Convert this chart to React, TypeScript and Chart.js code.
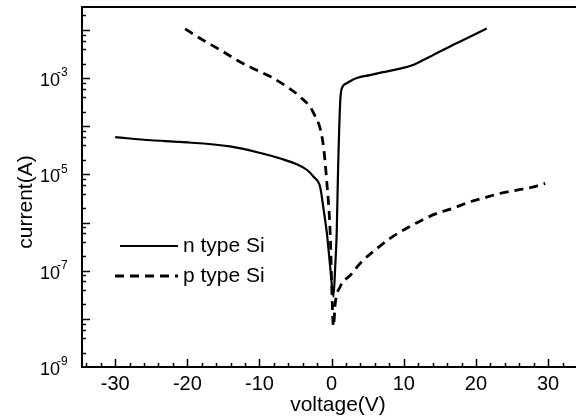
import React, { useEffect, useRef } from "react";
import { Chart, registerables } from "chart.js";

Chart.register(...registerables);

// ---- data ----
const nVoltage = [-30, -25, -21, -14.1, -10, -7, -5, -3.4, -2.5, -1.6, -1.1, -0.66, -0.2, 0.25, 0.5, 0.7, 0.9, 1.2, 1.5, 2.1, 2.8, 3.5, 5.3, 7.1, 9, 11.3, 12.3, 13.6, 15, 17.3, 19.6, 21.5];
const nCurrent = [5.9e-5, 5.1e-5, 4.7e-5, 3.8e-5, 2.8e-5, 2.1e-5, 1.66e-5, 1.23e-5, 8.9e-6, 5.5e-6, 1.8e-6, 6.0e-7, 1.2e-7, 2.9e-8, 1.26e-7, 6.0e-7, 1.4e-5, 3.5e-4, 6.5e-4, 7.8e-4, 9.0e-4, 1.0e-3, 1.15e-3, 1.32e-3, 1.51e-3, 1.86e-3, 2.19e-3, 2.75e-3, 3.55e-3, 5.25e-3, 7.76e-3, 1.07e-2];

const pVoltage = [-20.3, -18.2, -15.4, -13.1, -10.9, -8.5, -6.2, -4.4, -2.5, -1.2, -0.66, -0.2, 0.0, 0.25, 0.5, 1.2, 2.6, 4.2, 6.3, 8.1, 10.4, 12.5, 14.6, 16.9, 19.2, 21, 23.3, 25.7, 28, 29.6];
const pCurrent = [1.05e-2, 6.6e-3, 3.8e-3, 2.34e-3, 1.58e-3, 1.07e-3, 6.6e-4, 4.1e-4, 1.86e-4, 4.5e-5, 6.6e-6, 6.0e-7, 5.5e-8, 7.0e-9, 2.1e-8, 4.7e-8, 8.1e-8, 1.55e-7, 2.9e-7, 4.7e-7, 7.6e-7, 1.12e-6, 1.55e-6, 2.0e-6, 2.7e-6, 3.2e-6, 4.0e-6, 4.7e-6, 5.5e-6, 6.5e-6];

const seriesNames = ["n type Si", "p type Si"];
const xTickValues = [-30, -20, -10, 0, 10, 20, 30];
const yLabelExponents = [-9, -7, -5, -3];
const xTitle = "voltage(V)";
const yTitle = "current(A)";

const FONT = '"Liberation Sans", Arial, Helvetica, sans-serif';
const INK = "#000";
const DASH = [9, 6];

const decorPlugin = {
  id: "decor",
  afterDraw(chart: any) {
    const ctx = chart.ctx as CanvasRenderingContext2D;
    const { left, right, top, bottom } = chart.chartArea;
    const xs = chart.scales.x;
    const ys = chart.scales.y;
    ctx.save();
    ctx.strokeStyle = INK;
    ctx.fillStyle = INK;
    ctx.setLineDash([]);

    // frame
    ctx.lineWidth = 2;
    ctx.strokeRect(left, top, right - left, bottom - top);

    // x ticks (inward)
    ctx.lineWidth = 1.5;
    for (let v = -34; v <= 34; v += 2) {
      const px = Math.round(xs.getPixelForValue(v)) + 0.5;
      if (px < left + 2 || px > right - 2) continue;
      const len = v % 10 === 0 ? 8 : 4;
      ctx.beginPath();
      ctx.moveTo(px, bottom);
      ctx.lineTo(px, bottom - len);
      ctx.stroke();
    }
    // y ticks (inward)
    for (let e = -9; e <= -2; e++) {
      for (const m of [1, 2, 4, 6, 8]) {
        const v = m * Math.pow(10, e);
        if (v > ys.max) continue;
        const py = Math.round(ys.getPixelForValue(v)) + 0.5;
        if (py > bottom - 1) continue;
        const len = m === 1 ? 8 : 4;
        ctx.beginPath();
        ctx.moveTo(left, py);
        ctx.lineTo(left + len, py);
        ctx.stroke();
      }
    }

    // x tick labels
    ctx.font = `20px ${FONT}`;
    ctx.textAlign = "center";
    ctx.textBaseline = "middle";
    for (const v of xTickValues) {
      ctx.fillText(String(v), xs.getPixelForValue(v), 384);
    }

    // y tick labels 10^n
    for (const e of yLabelExponents) {
      const py = ys.getPixelForValue(Math.pow(10, e));
      ctx.font = `18px ${FONT}`;
      ctx.textAlign = "left";
      ctx.textBaseline = "middle";
      ctx.fillText("10", 40, py + 3);
      ctx.font = `12px ${FONT}`;
      ctx.fillText(String(e), 57, py - 5);
    }

    // axis titles
    ctx.font = `21px ${FONT}`;
    ctx.textAlign = "center";
    ctx.textBaseline = "middle";
    ctx.fillText(xTitle, 338, 405);
    ctx.save();
    ctx.translate(26, 202);
    ctx.rotate(-Math.PI / 2);
    ctx.fillText(yTitle, 0, 0);
    ctx.restore();

    // legend
    const rows = [
      { y: 246, x0: 120, dash: [] as number[], w: 2.2 },
      { y: 276, x0: 115, dash: DASH, w: 2.8 },
    ];
    rows.forEach((r, i) => {
      ctx.setLineDash(r.dash);
      ctx.lineWidth = r.w;
      ctx.beginPath();
      ctx.moveTo(r.x0, r.y);
      ctx.lineTo(178, r.y);
      ctx.stroke();
      ctx.setLineDash([]);
      ctx.font = `21px ${FONT}`;
      ctx.textAlign = "left";
      ctx.textBaseline = "middle";
      ctx.fillText(seriesNames[i], 183, r.y);
    });
    ctx.restore();
  },
};

export default function App() {
  const ref = useRef<HTMLCanvasElement | null>(null);
  useEffect(() => {
    if (!ref.current) return;
    const chart = new Chart(ref.current, {
      type: "line",
      data: {
        datasets: [
          {
            label: seriesNames[0],
            data: nVoltage.map((x, i) => ({ x, y: nCurrent[i] })),
            borderColor: INK,
            borderWidth: 2.2,
            pointRadius: 0,
            cubicInterpolationMode: "monotone",
            fill: false,
          },
          {
            label: seriesNames[1],
            data: pVoltage.map((x, i) => ({ x, y: pCurrent[i] })),
            borderColor: INK,
            borderWidth: 2.8,
            borderDash: DASH,
            pointRadius: 0,
            cubicInterpolationMode: "monotone",
            fill: false,
          },
        ],
      },
      options: {
        animation: false,
        responsive: false,
        devicePixelRatio: 1,
        layout: { padding: { left: 82, top: 7, right: 18, bottom: 50 } },
        plugins: { legend: { display: false }, tooltip: { enabled: false } },
        scales: {
          x: { type: "linear", min: -34.6, max: 34.7, display: false },
          y: { type: "logarithmic", min: 1e-9, max: 0.0298, display: false },
        },
      },
      plugins: [decorPlugin],
    });
    return () => chart.destroy();
  }, []);
  return (
    <div
      style={{
        position: "fixed",
        left: 0,
        top: 0,
        width: 576,
        height: 417,
        overflow: "hidden",
        background: "#fff",
      }}
    >
      <canvas ref={ref} width={600} height={417} style={{ display: "block" }} />
    </div>
  );
}
